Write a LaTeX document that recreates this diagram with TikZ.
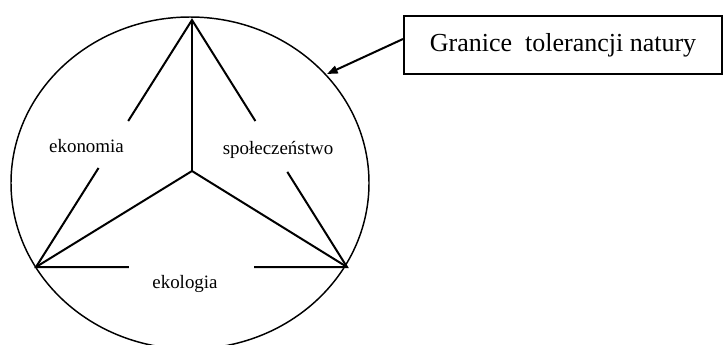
\documentclass[tikz,border=0pt]{standalone}
\usepackage{fontspec}
\setmainfont{Liberation Serif}
\usetikzlibrary{arrows.meta,calc}
\begin{document}
\begin{tikzpicture}[x=0.75pt,y=-0.75pt,
  edge/.style={line width=1.5pt, line join=miter},
  lbl/.style={font=\fontsize{14.2}{16}\selectfont, anchor=base, inner sep=0pt},
  callout/.style={draw, line width=1.5pt, minimum width=238.5pt, minimum height=43.5pt,
    inner sep=0pt, font=\fontsize{19.5}{22}\selectfont},
  pointer/.style={line width=1.5pt, -{Triangle[length=8pt,width=6pt]}}]
\useasboundingbox (0,0) rectangle (724,344);
\clip (0,0) rectangle (724,344);
% boundary ellipse
\draw[line width=1.1pt] (190,183) ellipse [x radius=179, y radius=166];
% triangle vertices and centre
\coordinate (T) at (192,20);
\coordinate (C) at (192,171);
\coordinate (L) at (36,267);
\coordinate (R) at (347,267);
% spokes
\draw[edge] (T) -- (C);
\draw[edge] (L) -- (C) -- (R);
% broken outer sides
\draw[edge] ($(T)!0.409!(L)$) -- (T) -- ($(T)!0.409!(R)$);
\draw[edge] ($(T)!0.599!(L)$) -- (L) -- ($(L)!0.299!(R)$);
\draw[edge] ($(T)!0.615!(R)$) -- (R) -- ($(R)!0.299!(L)$);
% labels
\node[lbl] (eko) at (86.5,152) {ekonomia};
\node[lbl] (spo) at (278,154) {społeczeństwo};
\node[lbl] (ekl) at (185,288) {ekologia};
% callout
\node[callout] (box) at (563,45) {Granice\ \ tolerancji natury};
\coordinate (tip) at (327,74);
\draw[pointer] ($(box.north west)!0.4!(box.south west)$) -- (tip);
\end{tikzpicture}
\end{document}
